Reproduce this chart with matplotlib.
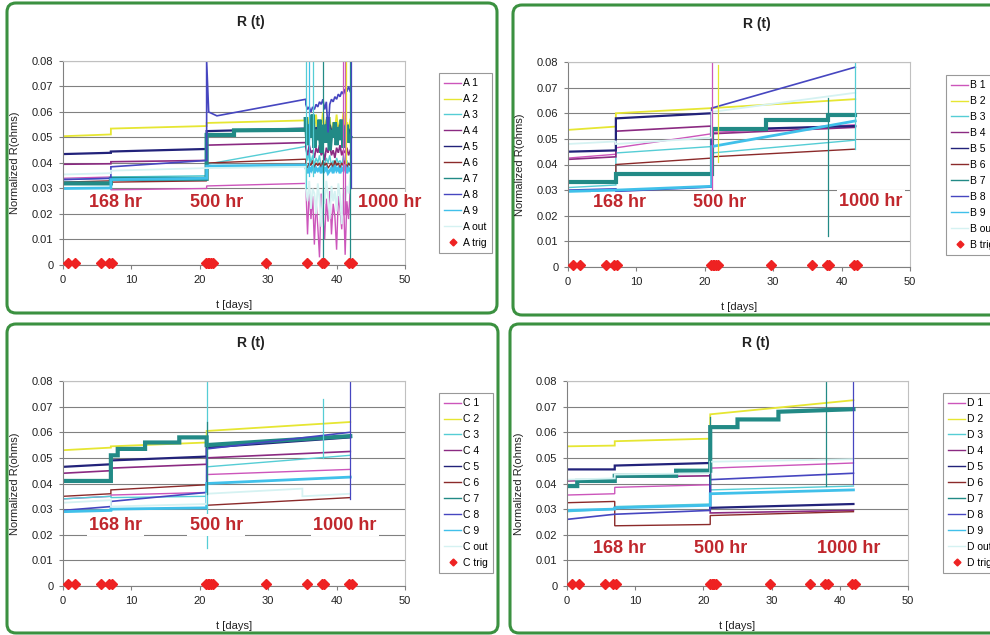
import numpy as np
import matplotlib.pyplot as plt
from matplotlib.patches import FancyBboxPatch

plt.rcParams['font.family'] = ['Liberation Sans', 'DejaVu Sans']

#=============================================================================#
# Data
#=============================================================================#
keys = ['1', '2', '3', '4', '5', '6', '7', '8', '9', 'out']
colors = {'1': '#cc55bb', '2': '#e6e632', '3': '#55cdd5', '4': '#8b2a82',
          '5': '#22227a', '6': '#8b2a2a', '7': '#228a86', '8': '#4646c0',
          '9': '#40c0ea', 'out': '#d5f2f2'}
widths = {'1': 1.0, '2': 1.3, '3': 1.0, '4': 1.2, '5': 1.6, '6': 1.0,
          '7': 3.0, '8': 1.2, '9': 2.0, 'out': 1.3}

xticks = [0, 10, 20, 30, 40, 50]
yticks = [0, 0.01, 0.02, 0.03, 0.04, 0.05, 0.06, 0.07, 0.08]
ytick_labels = ['0', '0.01', '0.02', '0.03', '0.04', '0.05', '0.06', '0.07', '0.08']

trig_t = [0.7, 1.8, 5.6, 6.7, 7.2, 20.9, 21.2, 21.4, 21.6, 21.9, 29.7, 35.6, 37.8, 38.2, 41.8, 42.2]
trig_level = 0.0009

knots = [0, 7, 7, 21, 21, 42]
knots_A = [0, 7, 7, 21, 21, 35.5]

# panel A, before the noisy part
A_vals = {
    '1': (knots_A, [0.0340, 0.0345, 0.0295, 0.0300, 0.0310, 0.0320]),
    '2': (knots_A, [0.0505, 0.0512, 0.0535, 0.0545, 0.0557, 0.0567]),
    '3': (knots_A, [0.0335, 0.0340, 0.0345, 0.0350, 0.0395, 0.0465]),
    '4': (knots_A, [0.0395, 0.0397, 0.0405, 0.0410, 0.0470, 0.0480]),
    '5': (knots_A, [0.0435, 0.0440, 0.0445, 0.0455, 0.0525, 0.0535]),
    '6': (knots_A, [0.0325, 0.0330, 0.0325, 0.0330, 0.0400, 0.0415]),
    '7': ([0, 7, 7, 21, 21, 25, 25, 35.5],
          [0.0320, 0.0320, 0.0338, 0.0338, 0.0510, 0.0510, 0.0528, 0.0530]),
    '8': ([0, 7, 7, 21, 21, 21.3, 22.5, 35.5],
          [0.0335, 0.0340, 0.0385, 0.0410, 0.0800, 0.0600, 0.0585, 0.0650]),
    '9': (knots_A, [0.0300, 0.0302, 0.0335, 0.0340, 0.0388, 0.0392]),
    'out': (knots_A, [0.0355, 0.0360, 0.0370, 0.0380, 0.0380, 0.0385]),
}

# panel A, noisy part after ~35 days
tail_t = [35.5, 35.75, 36.0, 36.25, 36.5, 36.75, 37.0, 37.25, 37.5, 37.75, 38.0, 38.25, 38.5,
          38.75, 39.0, 39.25, 39.5, 39.75, 40.0, 40.25, 40.5, 40.75, 41.0, 41.25, 41.5, 41.75, 42.0]
A_tail = {
    '1': [0.032, 0.012, 0.030, 0.018, 0.027, 0.008, 0.025, 0.015, 0.003, 0.028, 0.020, 0.010, 0.026, 0.017,
          0.029, 0.012, 0.024, 0.019, 0.006, 0.027, 0.022, 0.014, 0.028, 0.004, 0.025, 0.018, 0.030],
    '2': [0.056, 0.052, 0.058, 0.050, 0.057, 0.054, 0.059, 0.051, 0.056, 0.053, 0.060, 0.052, 0.057, 0.054,
          0.058, 0.050, 0.056, 0.053, 0.059, 0.052, 0.057, 0.054, 0.060, 0.051, 0.056, 0.053, 0.057],
    '3': [0.046, 0.041, 0.044, 0.040, 0.043, 0.039, 0.042, 0.040, 0.043, 0.038, 0.041, 0.039, 0.042, 0.040,
          0.043, 0.039, 0.041, 0.038, 0.042, 0.040, 0.041, 0.039, 0.043, 0.040, 0.041, 0.039, 0.040],
    '4': [0.046, 0.043, 0.047, 0.044, 0.045, 0.042, 0.046, 0.044, 0.047, 0.043, 0.045, 0.041, 0.046, 0.044,
          0.047, 0.043, 0.045, 0.042, 0.046, 0.044, 0.047, 0.043, 0.045, 0.044, 0.046, 0.043, 0.045],
    '5': [0.054, 0.050, 0.055, 0.051, 0.053, 0.049, 0.054, 0.052, 0.055, 0.050, 0.053, 0.051, 0.054, 0.049,
          0.055, 0.052, 0.053, 0.050, 0.054, 0.051, 0.055, 0.052, 0.053, 0.050, 0.054, 0.051, 0.053],
    '6': [0.040, 0.038, 0.040, 0.039, 0.041, 0.038, 0.040, 0.039, 0.040, 0.038, 0.041, 0.039, 0.040, 0.038,
          0.039, 0.040, 0.038, 0.041, 0.039, 0.040, 0.038, 0.040, 0.039, 0.041, 0.038, 0.040, 0.039],
    '7': [0.058, 0.047, 0.055, 0.050, 0.059, 0.046, 0.053, 0.049, 0.057, 0.044, 0.052, 0.055, 0.048, 0.058,
          0.045, 0.053, 0.050, 0.056, 0.047, 0.054, 0.049, 0.057, 0.046, 0.052, 0.055, 0.048, 0.050],
    '8': [0.063, 0.061, 0.062, 0.060, 0.062, 0.061, 0.063, 0.062, 0.064, 0.063, 0.065, 0.061, 0.064, 0.052,
          0.063, 0.065, 0.064, 0.066, 0.065, 0.067, 0.066, 0.068, 0.067, 0.069, 0.068, 0.070, 0.068],
    '9': [0.038, 0.036, 0.038, 0.037, 0.039, 0.036, 0.038, 0.037, 0.038, 0.036, 0.039, 0.037, 0.038, 0.036,
          0.037, 0.038, 0.036, 0.039, 0.037, 0.038, 0.036, 0.038, 0.037, 0.039, 0.036, 0.038, 0.037],
    'out': [0.030, 0.025, 0.033, 0.022, 0.030, 0.028, 0.020, 0.032, 0.026, 0.015, 0.030, 0.024, 0.033, 0.027,
            0.018, 0.031, 0.025, 0.029, 0.021, 0.032, 0.027, 0.016, 0.030, 0.025, 0.031, 0.028, 0.035],
}

B_vals = {
    '1': (knots, [0.0425, 0.0440, 0.0465, 0.0520, 0.0525, 0.0555]),
    '2': (knots, [0.0535, 0.0548, 0.0600, 0.0620, 0.0620, 0.0655]),
    '3': (knots, [0.0310, 0.0320, 0.0445, 0.0470, 0.0445, 0.0495]),
    '4': (knots, [0.0420, 0.0430, 0.0530, 0.0550, 0.0520, 0.0545]),
    '5': (knots, [0.0450, 0.0455, 0.0580, 0.0600, 0.0535, 0.0550]),
    '6': (knots, [0.0330, 0.0335, 0.0400, 0.0425, 0.0430, 0.0460]),
    '7': ([0, 7, 7, 21, 21, 29, 29, 38, 38, 42],
          [0.0330, 0.0330, 0.0362, 0.0362, 0.0540, 0.0540, 0.0572, 0.0572, 0.0595, 0.0595]),
    '8': (knots, [0.0300, 0.0305, 0.0295, 0.0312, 0.0620, 0.0780]),
    '9': (knots, [0.0295, 0.0300, 0.0300, 0.0315, 0.0470, 0.0570]),
    'out': (knots, [0.0480, 0.0490, 0.0480, 0.0505, 0.0605, 0.0680]),
}

C_vals = {
    '1': (knots, [0.0340, 0.0350, 0.0355, 0.0365, 0.0435, 0.0455]),
    '2': (knots, [0.0530, 0.0540, 0.0545, 0.0560, 0.0605, 0.0640]),
    '3': (knots, [0.0340, 0.0350, 0.0345, 0.0350, 0.0465, 0.0510]),
    '4': (knots, [0.0440, 0.0450, 0.0460, 0.0475, 0.0500, 0.0525]),
    '5': (knots, [0.0465, 0.0475, 0.0490, 0.0505, 0.0540, 0.0580]),
    '6': (knots, [0.0350, 0.0360, 0.0375, 0.0395, 0.0315, 0.0345]),
    '7': ([0, 7, 7, 8, 8, 12, 12, 17, 17, 21, 21, 42],
          [0.0410, 0.0410, 0.0510, 0.0510, 0.0535, 0.0535, 0.0560, 0.0560, 0.0580, 0.0580, 0.0550, 0.0585]),
    '8': (knots, [0.0295, 0.0310, 0.0330, 0.0365, 0.0535, 0.0600]),
    '9': (knots, [0.0290, 0.0295, 0.0300, 0.0305, 0.0400, 0.0425]),
    'out': ([0, 7, 7, 21, 21, 35, 35, 42],
            [0.0325, 0.0335, 0.0310, 0.0320, 0.0360, 0.0380, 0.0350, 0.0360]),
}

D_vals = {
    '1': (knots, [0.0355, 0.0360, 0.0385, 0.0395, 0.0460, 0.0480]),
    '2': (knots, [0.0545, 0.0548, 0.0565, 0.0575, 0.0670, 0.0725]),
    '3': (knots, [0.0290, 0.0300, 0.0310, 0.0320, 0.0375, 0.0390]),
    '4': (knots, [0.0410, 0.0415, 0.0425, 0.0430, 0.0285, 0.0295]),
    '5': (knots, [0.0455, 0.0455, 0.0470, 0.0480, 0.0305, 0.0320]),
    '6': (knots, [0.0325, 0.0330, 0.0235, 0.0240, 0.0275, 0.0290]),
    '7': ([0, 1.5, 1.5, 7, 7, 16, 16, 21, 21, 25, 25, 31, 31, 42],
          [0.0390, 0.0390, 0.0410, 0.0410, 0.0430, 0.0430, 0.0450, 0.0450,
           0.0620, 0.0620, 0.0650, 0.0650, 0.0680, 0.0690]),
    '8': (knots, [0.0260, 0.0280, 0.0280, 0.0295, 0.0415, 0.0440]),
    '9': (knots, [0.0295, 0.0300, 0.0305, 0.0315, 0.0360, 0.0375]),
    'out': (knots, [0.0415, 0.0420, 0.0435, 0.0440, 0.0485, 0.0495]),
}

# vertical spikes: (t, low, high, series)
A_spikes = [(35.5, 0.030, 0.080, '3'), (35.9, 0.035, 0.080, '9'), (36.6, 0.035, 0.080, '3'),
            (38.0, 0.000, 0.080, '7'), (40.9, 0.020, 0.080, '1'), (41.2, 0.020, 0.080, '1'),
            (41.4, 0.040, 0.080, '2'), (42.0, 0.000, 0.080, '7'), (42.1, 0.030, 0.080, '8')]
B_spikes = [(21.0, 0.030, 0.080, '1'), (22.0, 0.041, 0.079, '2'), (38.0, 0.012, 0.066, '7'),
            (42.0, 0.046, 0.080, '3')]
C_spikes = [(21.0, 0.015, 0.080, '3'), (21.0, 0.036, 0.064, '7'), (38.0, 0.050, 0.073, '3'),
            (42.0, 0.034, 0.080, '8')]
D_spikes = [(21.0, 0.040, 0.066, '7'), (38.0, 0.039, 0.080, '7'), (42.0, 0.040, 0.080, '8')]

A_notes = [(7.7, 0.0244, '168 hr'), (22.4, 0.0244, '500 hr'), (47.8, 0.0244, '1000 hr')]
B_notes = [(7.5, 0.0250, '168 hr'), (22.2, 0.0250, '500 hr'), (44.3, 0.0257, '1000 hr')]
C_notes = [(7.7, 0.0238, '168 hr'), (22.4, 0.0238, '500 hr'), (41.2, 0.0238, '1000 hr')]
D_notes = [(7.7, 0.0147, '168 hr'), (22.5, 0.0147, '500 hr'), (41.3, 0.0147, '1000 hr')]

#=============================================================================#
# Layout (pixel positions on a 990x635 canvas)
#=============================================================================#
W, H = 990, 635
panels = [
    dict(name='A', vals=A_vals, tail=A_tail, spikes=A_spikes, notes=A_notes,
         plot=(63, 61, 405, 265), box=(7, 3, 497, 313), title=(251, 22), leg=(439, 73)),
    dict(name='B', vals=B_vals, tail=None, spikes=B_spikes, notes=B_notes,
         plot=(568, 62, 910, 267), box=(513, 5, 1010, 315), title=(757, 24), leg=(946, 75)),
    dict(name='C', vals=C_vals, tail=None, spikes=C_spikes, notes=C_notes,
         plot=(63, 381, 405, 586), box=(7, 324, 498, 633), title=(251, 343), leg=(439, 393)),
    dict(name='D', vals=D_vals, tail=None, spikes=D_spikes, notes=D_notes,
         plot=(567, 381, 908, 586), box=(510, 324, 1010, 633), title=(756, 343), leg=(943, 393)),
]

fig = plt.figure(figsize=(W / 100, H / 100), dpi=100)
bg = fig.add_axes([0, 0, 1, 1], zorder=-5)
bg.set_xlim(0, W)
bg.set_ylim(H, 0)
bg.axis('off')

for p in panels:
    x0, y0, x1, y1 = p['box']
    bg.add_patch(FancyBboxPatch((x0, y0), x1 - x0, y1 - y0,
                                boxstyle='round,pad=0,rounding_size=9',
                                fc='white', ec='#3b9140', lw=2.2))
    bg.text(p['title'][0], p['title'][1], 'R (t)', ha='center', va='center',
            fontsize=10, fontweight='bold', color='#222222')

    l, t, r, b = p['plot']
    ax = fig.add_axes([l / W, 1 - b / H, (r - l) / W, (b - t) / H])
    ax.set_xlim(0, 50)
    ax.set_ylim(0, 0.08)
    ax.set_xticks(xticks)
    ax.set_xticklabels([str(v) for v in xticks])
    ax.set_yticks(yticks)
    ax.set_yticklabels(ytick_labels)
    ax.tick_params(labelsize=8, length=3, width=0.8, color='#808080', pad=4, labelcolor='#222222')
    for s in ['left', 'bottom']:
        ax.spines[s].set_color('#808080')
    for s in ['top', 'right']:
        ax.spines[s].set_color('#c0c0c0')
    ax.grid(axis='y', color='#808080', lw=0.8)
    ax.set_axisbelow(True)
    ax.set_xlabel('t [days]', fontsize=8, color='#222222')
    ax.set_ylabel('Normalized R(ohms)', fontsize=8, color='#222222')
    ax.xaxis.set_label_coords(0.5, -0.17)
    ax.yaxis.set_label_coords(-0.125, 0.5)

    n = p['name']
    for k in keys:
        tt, vv = p['vals'][k]
        tt = list(tt)
        vv = list(vv)
        if p['tail'] is not None:
            tt = tt + tail_t
            vv = vv + p['tail'][k]
        ax.plot(tt, vv, color=colors[k], lw=widths[k], label=n + ' ' + k, solid_joinstyle='miter')
    for (ts, lo, hi, k) in p['spikes']:
        ax.plot([ts, ts], [lo, hi], color=colors[k], lw=0.9)
    ax.plot(trig_t, np.full(len(trig_t), trig_level), 'D', color='#ee2222', ms=5,
            mec='#ee2222', label=n + ' trig', clip_on=False, zorder=5)

    for (tx, ty, s) in p['notes']:
        ax.text(tx, ty, s, ha='center', va='center', fontsize=13, fontweight='bold',
                color='#c0272d', zorder=6,
                bbox=dict(boxstyle='square,pad=0.12', fc='white', ec='none'))

    leg = ax.legend(loc='upper left', bbox_to_anchor=(p['leg'][0] / W, 1 - p['leg'][1] / H),
                    bbox_transform=fig.transFigure, borderaxespad=0, fontsize=7.5,
                    handlelength=1.6, handletextpad=0.2, labelspacing=0.57, borderpad=0.5,
                    markerscale=0.7, fancybox=False, framealpha=1, edgecolor='#999999')
    leg.get_frame().set_linewidth(0.8)
    for h in leg.get_lines():
        h.set_linewidth(1.0)

fig.savefig('out.png', dpi=100)
